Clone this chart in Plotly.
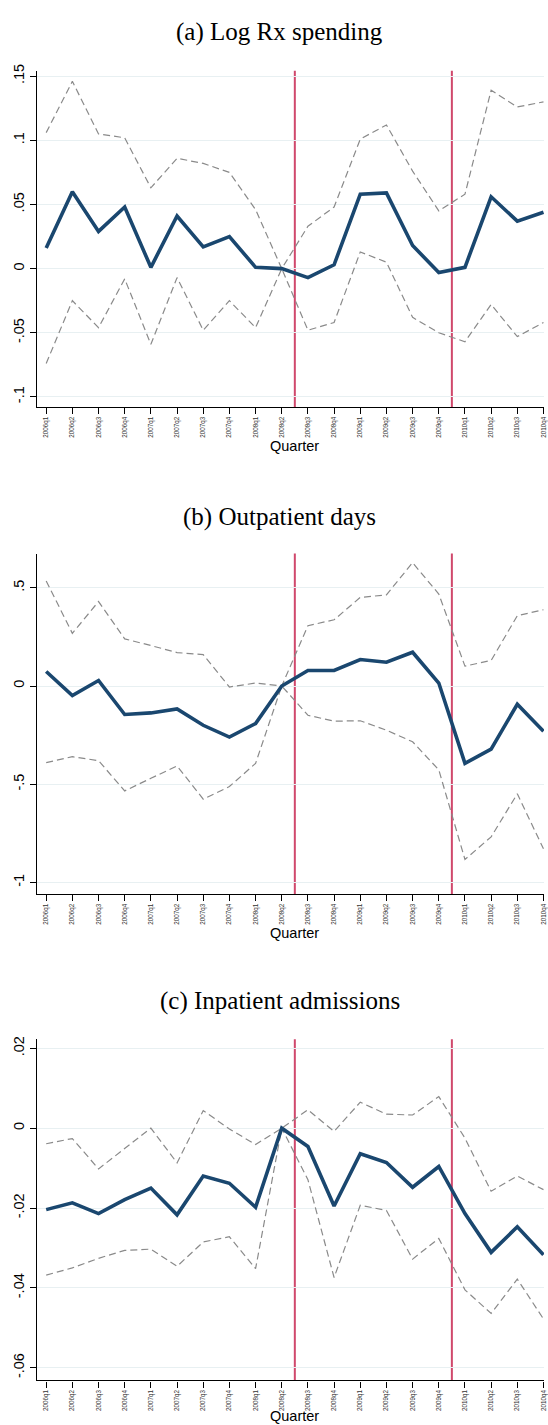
import plotly.graph_objects as go

quarters = ["2006q1", "2006q2", "2006q3", "2006q4", "2007q1", "2007q2", "2007q3", "2007q4",
            "2008q1", "2008q2", "2008q3", "2008q4", "2009q1", "2009q2", "2009q3", "2009q4",
            "2010q1", "2010q2", "2010q3", "2010q4"]

rx_coef = [0.016, 0.060, 0.029, 0.048, 0.001, 0.041, 0.017, 0.025, 0.001, 0.0,
           -0.007, 0.003, 0.058, 0.059, 0.018, -0.003, 0.001, 0.056, 0.037, 0.044]
rx_upper = [0.106, 0.146, 0.105, 0.102, 0.063, 0.086, 0.082, 0.075, 0.046, 0.0,
            0.033, 0.048, 0.101, 0.112, 0.076, 0.045, 0.058, 0.139, 0.126, 0.130]
rx_lower = [-0.074, -0.025, -0.046, -0.008, -0.059, -0.007, -0.048, -0.025, -0.046, 0.0,
            -0.048, -0.042, 0.013, 0.005, -0.038, -0.050, -0.057, -0.028, -0.053, -0.042]

op_coef = [0.074, -0.049, 0.028, -0.145, -0.137, -0.117, -0.200, -0.260, -0.191, 0.0,
           0.079, 0.079, 0.135, 0.121, 0.172, 0.015, -0.394, -0.321, -0.093, -0.230]
op_upper = [0.535, 0.268, 0.430, 0.240, 0.206, 0.170, 0.160, -0.005, 0.015, 0.0,
            0.307, 0.337, 0.451, 0.464, 0.628, 0.468, 0.101, 0.130, 0.358, 0.388]
op_lower = [-0.390, -0.360, -0.380, -0.534, -0.470, -0.407, -0.576, -0.512, -0.394, 0.0,
            -0.149, -0.179, -0.177, -0.225, -0.284, -0.427, -0.883, -0.768, -0.549, -0.829]

ip_coef = [-0.0204, -0.0187, -0.0214, -0.0179, -0.0150, -0.0217, -0.0120, -0.0138, -0.0198, 0.0,
           -0.0046, -0.0195, -0.0064, -0.0086, -0.0148, -0.0096, -0.0214, -0.0311, -0.0247, -0.0317]
ip_upper = [-0.0039, -0.0026, -0.0102, -0.0051, 0.0000, -0.0087, 0.0044, -0.0002, -0.0041, 0.0,
            0.0046, -0.0008, 0.0065, 0.0035, 0.0033, 0.0079, -0.0025, -0.0158, -0.0120, -0.0154]
ip_lower = [-0.0368, -0.0350, -0.0326, -0.0306, -0.0303, -0.0346, -0.0285, -0.0272, -0.0352, 0.0,
            -0.0129, -0.0374, -0.0193, -0.0206, -0.0328, -0.0276, -0.0405, -0.0464, -0.0378, -0.0478]

titles = ["(a) Log Rx spending", "(b) Outpatient days", "(c) Inpatient admissions"]
xtitle = "Quarter"
event_lines = [9.5, 15.5]

rx_ticks = [-0.1, -0.05, 0, 0.05, 0.1, 0.15]
rx_ticktext = ["-.1", "-.05", "0", ".05", ".1", ".15"]
op_ticks = [-1, -0.5, 0, 0.5]
op_ticktext = ["-1", "-.5", "0", ".5"]
ip_ticks = [-0.06, -0.04, -0.02, 0, 0.02]
ip_ticktext = ["-.06", "-.04", "-.02", "0", ".02"]

W, H = 548, 1425
NAVY = "#1a476f"
GRAY = "#8a8a8a"
RED = "#d0486c"
GRID = "#e8f0f2"

panels = [
    dict(coef=rx_coef, up=rx_upper, lo=rx_lower, ticks=rx_ticks, tt=rx_ticktext,
         top=64.0, bot=402.0, rng=[-0.1079, 0.1543], title_y=25.5, xt_y=441.0),
    dict(coef=op_coef, up=op_upper, lo=op_lower, ticks=op_ticks, tt=op_ticktext,
         top=549.3, bot=891.4, rng=[-1.059, 0.674], title_y=513.0, xt_y=930.2),
    dict(coef=ip_coef, up=ip_upper, lo=ip_lower, ticks=ip_ticks, tt=ip_ticktext,
         top=1037.3, bot=1380.1, rng=[-0.06315, 0.02228], title_y=998.5, xt_y=1416.0),
]

fig = go.Figure()
layout = dict(width=W, height=H, margin=dict(l=0, r=0, t=0, b=0),
              paper_bgcolor="white", plot_bgcolor="white", showlegend=False)
shapes = []
annotations = []
x_left = 37.3 / W

for k, p in enumerate(panels):
    sfx = "" if k == 0 else str(k + 1)
    xa, ya = "x" + sfx, "y" + sfx
    for series in (p["up"], p["lo"]):
        fig.add_trace(go.Scatter(x=quarters, y=series, xaxis=xa, yaxis=ya, mode="lines",
                                 line=dict(color=GRAY, width=1.2, dash="7px,4px"),
                                 hoverinfo="skip"))
    fig.add_trace(go.Scatter(x=quarters, y=p["coef"], xaxis=xa, yaxis=ya, mode="lines",
                             line=dict(color=NAVY, width=3.6)))
    dom = [1 - p["bot"] / H, 1 - p["top"] / H]
    layout["xaxis" + sfx] = dict(
        domain=[x_left, 1.0], anchor=ya, type="category", range=[-0.35, 19.02],
        tickmode="array", tickvals=quarters, ticktext=quarters, tickangle=-90,
        tickfont=dict(family="Liberation Sans, Arial, sans-serif", size=6.3, color="#333"),
        ticks="outside", ticklen=6, tickwidth=1.2, tickcolor="#000",
        showline=True, linecolor="#000", linewidth=1.4, showgrid=False, zeroline=False,
        fixedrange=True)
    layout["yaxis" + sfx] = dict(
        domain=dom, anchor=xa, range=p["rng"], tickmode="array", tickvals=p["ticks"],
        ticktext=p["tt"], tickangle=-90,
        tickfont=dict(family="Liberation Sans, Arial, sans-serif", size=14.5, color="#000"),
        ticks="outside", ticklen=6, tickwidth=1.2, tickcolor="#000",
        showline=True, linecolor="#000", linewidth=1.4, showgrid=True, gridcolor=GRID,
        gridwidth=1, zeroline=False, fixedrange=True)
    for xv in event_lines:
        shapes.append(dict(type="line", xref=xa, yref=ya + " domain", x0=xv, x1=xv, y0=0, y1=1,
                           line=dict(color=RED, width=2), layer="below"))
    annotations.append(dict(text=titles[k], xref="paper", yref="paper", x=282 / W,
                            y=1 - p["title_y"] / H, xanchor="center", yanchor="middle",
                            showarrow=False,
                            font=dict(family="Liberation Serif, Times New Roman, serif",
                                      size=25, color="#000")))
    annotations.append(dict(text=xtitle, xref="paper", yref="paper", x=296.5 / W,
                            y=1 - p["xt_y"] / H, xanchor="center", yanchor="middle",
                            showarrow=False,
                            font=dict(family="Liberation Sans, Arial, sans-serif", size=14.5,
                                      color="#000")))

layout["shapes"] = shapes
layout["annotations"] = annotations
fig.update_layout(**layout)
fig.write_html("out.html")
